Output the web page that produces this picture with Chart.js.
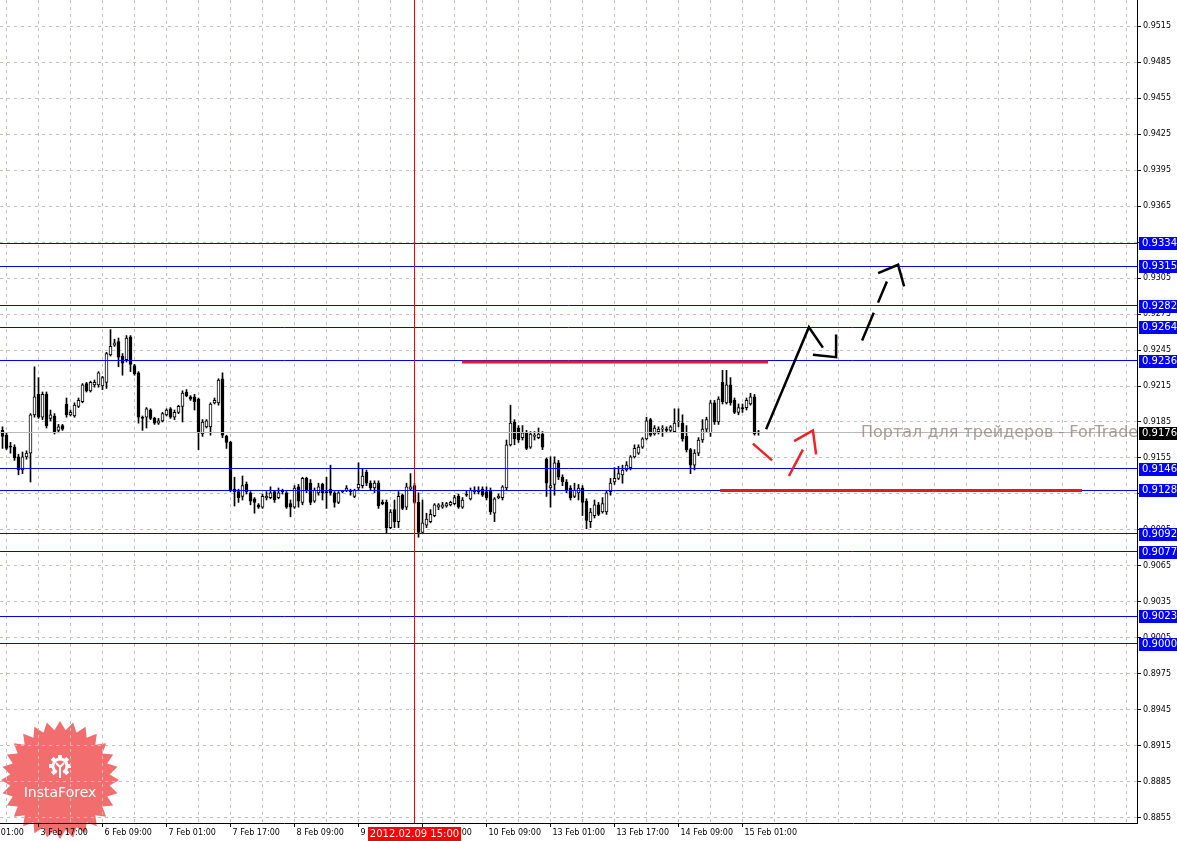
<!DOCTYPE html>
<html>
<head>
<meta charset="utf-8">
<script src="https://cdn.jsdelivr.net/npm/chart.js@4.4.1/dist/chart.umd.min.js"></script>
<style>
  html, body { margin: 0; padding: 0; background: #fff; }
  canvas { display: block; }
</style>
</head>
<body>
<canvas id="chart" width="1177" height="841"></canvas>
<script>
// H1 candles, bar 0 is the first bar on the left, bar 189 = 15 Feb 05:00
const opens = [
  0.9178,0.9174,0.9165,0.9164,0.9156,0.9145,0.9156,0.9159,0.9191,0.9208,
  0.9189,0.9208,0.9188,0.9190,0.9178,0.9182,0.9200,0.9191,0.9190,0.9198,
  0.9202,0.9217,0.9211,0.9216,0.9216,0.9215,0.9218,0.9241,0.9249,0.9252,
  0.9240,0.9237,0.9256,0.9232,0.9226,0.9189,0.9189,0.9195,0.9188,0.9184,
  0.9186,0.9191,0.9196,0.9189,0.9193,0.9198,0.9210,0.9206,0.9206,0.9204,
  0.9175,0.9181,0.9181,0.9201,0.9201,0.9221,0.9173,0.9168,0.9129,0.9127,
  0.9123,0.9133,0.9126,0.9121,0.9116,0.9114,0.9122,0.9122,0.9127,0.9122,
  0.9128,0.9126,0.9117,0.9114,0.9131,0.9118,0.9138,0.9134,0.9119,0.9126,
  0.9133,0.9127,0.9129,0.9126,0.9118,0.9127,0.9128,0.9128,0.9123,0.9130,
  0.9132,0.9143,0.9134,0.9130,0.9134,0.9118,0.9118,0.9097,0.9112,0.9102,
  0.9124,0.9114,0.9129,0.9132,0.9118,0.9093,0.9099,0.9102,0.9107,0.9114,
  0.9114,0.9115,0.9116,0.9117,0.9123,0.9114,0.9125,0.9121,0.9127,0.9128,
  0.9129,0.9127,0.9128,0.9109,0.9122,0.9122,0.9130,0.9166,0.9185,0.9180,
  0.9172,0.9176,0.9164,0.9173,0.9172,0.9175,0.9154,0.9130,0.9133,0.9151,
  0.9139,0.9135,0.9130,0.9123,0.9126,0.9130,0.9119,0.9102,0.9107,0.9116,
  0.9110,0.9110,0.9127,0.9135,0.9138,0.9141,0.9145,0.9147,0.9156,0.9159,
  0.9164,0.9171,0.9187,0.9175,0.9177,0.9179,0.9179,0.9178,0.9177,0.9185,
  0.9184,0.9173,0.9162,0.9149,0.9159,0.9170,0.9179,0.9176,0.9201,0.9185,
  0.9218,0.9201,0.9216,0.9203,0.9193,0.9197,0.9197,0.9200,0.9206,0.9176
];
const highs = [
  0.9181,0.9176,0.9168,0.9166,0.9158,0.9160,0.9161,0.9192,0.9231,0.9222,
  0.9210,0.9210,0.9195,0.9192,0.9183,0.9183,0.9205,0.9195,0.9201,0.9205,
  0.9217,0.9218,0.9219,0.9220,0.9227,0.9223,0.9243,0.9262,0.9254,0.9255,
  0.9242,0.9257,0.9257,0.9233,0.9227,0.9190,0.9197,0.9196,0.9189,0.9188,
  0.9193,0.9196,0.9197,0.9195,0.9199,0.9211,0.9212,0.9207,0.9208,0.9205,
  0.9187,0.9187,0.9201,0.9205,0.9221,0.9226,0.9174,0.9169,0.9139,0.9129,
  0.9140,0.9135,0.9127,0.9122,0.9117,0.9125,0.9127,0.9131,0.9128,0.9130,
  0.9129,0.9127,0.9120,0.9132,0.9133,0.9139,0.9139,0.9137,0.9130,0.9134,
  0.9134,0.9139,0.9149,0.9127,0.9127,0.9128,0.9132,0.9129,0.9129,0.9151,
  0.9146,0.9145,0.9136,0.9136,0.9136,0.9120,0.9120,0.9112,0.9120,0.9127,
  0.9125,0.9134,0.9142,0.9134,0.9126,0.9120,0.9109,0.9112,0.9117,0.9117,
  0.9118,0.9118,0.9119,0.9124,0.9125,0.9122,0.9128,0.9130,0.9131,0.9131,
  0.9131,0.9131,0.9130,0.9122,0.9125,0.9132,0.9170,0.9199,0.9187,0.9182,
  0.9182,0.9178,0.9177,0.9177,0.9180,0.9177,0.9155,0.9156,0.9156,0.9153,
  0.9141,0.9137,0.9132,0.9134,0.9133,0.9132,0.9121,0.9113,0.9120,0.9118,
  0.9122,0.9128,0.9138,0.9147,0.9148,0.9149,0.9152,0.9157,0.9166,0.9166,
  0.9172,0.9189,0.9188,0.9182,0.9181,0.9182,0.9181,0.9182,0.9196,0.9196,
  0.9191,0.9182,0.9163,0.9162,0.9172,0.9187,0.9189,0.9203,0.9203,0.9206,
  0.9228,0.9228,0.9222,0.9205,0.9200,0.9200,0.9205,0.9209,0.9208,0.9178
];
const lows = [
  0.9163,0.9162,0.9159,0.9153,0.9141,0.9142,0.9154,0.9135,0.9189,0.9188,
  0.9187,0.9180,0.9186,0.9175,0.9176,0.9178,0.9189,0.9190,0.9189,0.9197,
  0.9201,0.9210,0.9210,0.9214,0.9214,0.9212,0.9213,0.9240,0.9248,0.9231,
  0.9224,0.9235,0.9227,0.9224,0.9184,0.9178,0.9180,0.9187,0.9183,0.9183,
  0.9185,0.9190,0.9188,0.9187,0.9192,0.9185,0.9206,0.9203,0.9195,0.9162,
  0.9173,0.9180,0.9174,0.9200,0.9199,0.9172,0.9163,0.9127,0.9115,0.9118,
  0.9120,0.9125,0.9116,0.9109,0.9113,0.9113,0.9120,0.9121,0.9118,0.9121,
  0.9125,0.9113,0.9106,0.9113,0.9114,0.9116,0.9126,0.9116,0.9118,0.9124,
  0.9120,0.9113,0.9124,0.9114,0.9117,0.9126,0.9127,0.9124,0.9122,0.9128,
  0.9130,0.9132,0.9128,0.9126,0.9113,0.9116,0.9092,0.9096,0.9097,0.9097,
  0.9112,0.9112,0.9128,0.9117,0.9089,0.9092,0.9097,0.9101,0.9106,0.9112,
  0.9113,0.9114,0.9115,0.9116,0.9113,0.9113,0.9123,0.9120,0.9125,0.9125,
  0.9123,0.9120,0.9108,0.9102,0.9121,0.9120,0.9128,0.9165,0.9166,0.9168,
  0.9170,0.9162,0.9163,0.9170,0.9171,0.9162,0.9123,0.9114,0.9124,0.9137,
  0.9132,0.9126,0.9120,0.9122,0.9120,0.9107,0.9096,0.9097,0.9105,0.9107,
  0.9109,0.9108,0.9124,0.9133,0.9137,0.9134,0.9144,0.9145,0.9155,0.9158,
  0.9163,0.9170,0.9173,0.9174,0.9175,0.9173,0.9176,0.9177,0.9177,0.9181,
  0.9169,0.9160,0.9142,0.9145,0.9157,0.9168,0.9177,0.9173,0.9183,0.9183,
  0.9200,0.9200,0.9199,0.9192,0.9191,0.9193,0.9195,0.9199,0.9174,0.9174
];
const closes = [
  0.9173,0.9163,0.9164,0.9155,0.9145,0.9156,0.9159,0.9191,0.9206,0.9189,
  0.9208,0.9182,0.9191,0.9177,0.9181,0.9179,0.9191,0.9193,0.9199,0.9203,
  0.9216,0.9211,0.9218,0.9218,0.9226,0.9222,0.9242,0.9248,0.9251,0.9239,
  0.9234,0.9255,0.9233,0.9225,0.9189,0.9188,0.9196,0.9188,0.9184,0.9186,
  0.9192,0.9195,0.9189,0.9193,0.9198,0.9209,0.9207,0.9204,0.9202,0.9176,
  0.9185,0.9186,0.9200,0.9203,0.9220,0.9174,0.9168,0.9128,0.9127,0.9122,
  0.9132,0.9127,0.9119,0.9118,0.9114,0.9123,0.9123,0.9126,0.9120,0.9126,
  0.9127,0.9114,0.9114,0.9130,0.9119,0.9138,0.9128,0.9118,0.9128,0.9131,
  0.9126,0.9126,0.9126,0.9118,0.9126,0.9128,0.9130,0.9127,0.9128,0.9133,
  0.9140,0.9134,0.9130,0.9134,0.9115,0.9117,0.9097,0.9110,0.9102,0.9123,
  0.9113,0.9131,0.9131,0.9118,0.9093,0.9101,0.9104,0.9108,0.9116,0.9116,
  0.9116,0.9117,0.9118,0.9122,0.9114,0.9120,0.9124,0.9128,0.9128,0.9127,
  0.9124,0.9122,0.9110,0.9121,0.9123,0.9131,0.9166,0.9184,0.9171,0.9170,
  0.9176,0.9163,0.9175,0.9174,0.9175,0.9164,0.9134,0.9132,0.9151,0.9139,
  0.9135,0.9128,0.9122,0.9128,0.9130,0.9118,0.9103,0.9110,0.9116,0.9108,
  0.9117,0.9126,0.9134,0.9138,0.9142,0.9145,0.9149,0.9156,0.9163,0.9164,
  0.9171,0.9186,0.9174,0.9180,0.9179,0.9180,0.9178,0.9181,0.9184,0.9186,
  0.9171,0.9162,0.9149,0.9159,0.9170,0.9179,0.9187,0.9201,0.9185,0.9204,
  0.9202,0.9216,0.9201,0.9193,0.9197,0.9196,0.9203,0.9206,0.9175,0.9176
];

// price axis labels
const yTicks = [0.8855, 0.8885, 0.8915, 0.8945, 0.8975, 0.9005, 0.9035, 0.9065,
  0.9095, 0.9125, 0.9155, 0.9185, 0.9215, 0.9245, 0.9275, 0.9305, 0.9335,
  0.9365, 0.9395, 0.9425, 0.9455, 0.9485, 0.9515];

// time axis labels (bar index -> text)
const timeTickBars = [-7, 9, 25, 41, 57, 73, 89, 105, 121, 137, 153, 169, 185];
const timeTickLabels = ['3 Feb 01:00', '3 Feb 17:00', '6 Feb 09:00', '7 Feb 01:00',
  '7 Feb 17:00', '8 Feb 09:00', '9 Feb 01:00', '9 Feb 17:00', '10 Feb 09:00',
  '13 Feb 01:00', '13 Feb 17:00', '14 Feb 09:00', '15 Feb 01:00'];

// horizontal levels and markers
const levels = [0.9334, 0.9315, 0.9282, 0.9264, 0.9236, 0.9146, 0.9128, 0.9092, 0.9077, 0.9023, 0.9000];
const lastPrice = 0.9176;
const markerBar = 103;
const markerLabel = '2012.02.09 15:00';

// hand drawn forecast objects: [bar, price]
const resistanceLine = [[114.9, 0.9235], [191.4, 0.9235]];
const supportLine = [[179.4, 0.9128], [269.9, 0.9128]];
const upPath = [[190.9, 0.9179], [201.6, 0.9264], [205.1, 0.9247]];
const upHead = [[202.6, 0.9241], [208.4, 0.9239], [208.4, 0.9258]];
const upPath2 = [[214.9, 0.9253], [221.1, 0.9302]];
const upHead2 = [[218.9, 0.9309], [223.9, 0.9316], [225.4, 0.9298]];
const downPath = [[187.6, 0.9167], [192.4, 0.9153]];
const downPath2 = [[196.6, 0.9140], [200.1, 0.9162]];
const downHead = [[197.9, 0.9169], [202.6, 0.9178], [203.4, 0.9158]];

const FONT = "'DejaVu Sans', sans-serif";
const GRID = '#bcc4bc';

function lineSet(pts, color, width, dash) {
  return {
    type: 'line',
    data: pts.map(p => ({ x: p[0], y: p[1] })),
    borderColor: color,
    borderWidth: width,
    borderDash: dash || [],
    pointRadius: 0,
    fill: false,
    tension: 0,
    order: 0
  };
}

function drawLogo(ctx) {
  const cx = 60, cy = 780, spikes = 28;
  ctx.save();
  ctx.beginPath();
  for (let k = 0; k < spikes * 2; k++) {
    const r = k % 2 ? 50 : 59;
    const a = -Math.PI / 2 + k * Math.PI / spikes;
    const px = cx + r * Math.cos(a), py = cy + r * Math.sin(a);
    if (k === 0) ctx.moveTo(px, py); else ctx.lineTo(px, py);
  }
  ctx.closePath();
  ctx.fillStyle = 'rgba(240, 85, 85, 0.85)';
  ctx.fill();

  // gear icon
  const gx = 60, gy = 766;
  ctx.strokeStyle = '#fff';
  ctx.fillStyle = '#fff';
  ctx.lineWidth = 3;
  ctx.beginPath();
  ctx.arc(gx, gy, 7, Math.PI * 0.65, Math.PI * 0.35);
  ctx.stroke();
  for (let k = 0; k < 8; k++) {
    const a = -Math.PI / 2 + k * Math.PI / 4;
    if (Math.abs(a - Math.PI / 2) < 0.1) continue;
    ctx.save();
    ctx.translate(gx + 9.5 * Math.cos(a), gy + 9.5 * Math.sin(a));
    ctx.rotate(a);
    ctx.fillRect(-1.5, -2, 3, 4);
    ctx.restore();
  }
  ctx.lineWidth = 2;
  ctx.beginPath();
  ctx.moveTo(gx - 4, gy - 3);
  ctx.lineTo(gx, gy + 1);
  ctx.lineTo(gx + 4, gy - 3);
  ctx.moveTo(gx, gy + 1);
  ctx.lineTo(gx, gy + 12);
  ctx.stroke();

  ctx.font = '14px ' + FONT;
  ctx.textAlign = 'center';
  ctx.textBaseline = 'alphabetic';
  ctx.fillText('InstaForex', cx, 797);
  ctx.restore();
}

function tag(ctx, py, text, bg) {
  ctx.fillStyle = bg;
  ctx.fillRect(1139, Math.round(py) - 6, 38, 13);
  ctx.fillStyle = '#fff';
  ctx.font = '10px ' + FONT;
  ctx.textAlign = 'left';
  ctx.textBaseline = 'middle';
  ctx.fillText(text, 1142, Math.round(py) + 0.5);
}

const overlay = {
  id: 'overlay',
  beforeDraw(chart) {
    drawLogo(chart.ctx);
  },
  afterDatasetDraw(chart, args) {
    if (args.index !== 0) return;
    const { ctx, chartArea: a, scales: { x, y } } = chart;
    ctx.save();
    ctx.lineWidth = 1;
    // bid line
    let py = Math.floor(y.getPixelForValue(lastPrice)) + 0.5;
    ctx.strokeStyle = '#b8b8b8';
    ctx.beginPath(); ctx.moveTo(a.left, py); ctx.lineTo(a.right, py); ctx.stroke();
    ctx.strokeStyle = '#0000ff';
    levels.forEach(v => {
      py = Math.floor(y.getPixelForValue(v)) + 0.5;
      ctx.beginPath(); ctx.moveTo(a.left, py); ctx.lineTo(a.right, py); ctx.stroke();
    });
    const mx = Math.floor(x.getPixelForValue(markerBar)) + 0.5;
    ctx.strokeStyle = '#ff0000';
    ctx.beginPath(); ctx.moveTo(mx, a.top); ctx.lineTo(mx, a.bottom); ctx.stroke();
    ctx.restore();
  },
  afterDraw(chart) {
    const { ctx, chartArea: a, scales: { x, y } } = chart;
    ctx.save();
    // watermark
    ctx.save();
    ctx.beginPath();
    ctx.rect(a.left, a.top, a.right - a.left, a.bottom - a.top);
    ctx.clip();
    ctx.font = '16px ' + FONT;
    ctx.fillStyle = 'rgba(150, 132, 132, 0.8)';
    ctx.textAlign = 'left';
    ctx.textBaseline = 'alphabetic';
    ctx.fillText('Портал для трейдеров - ForTrader.ru', 861, 437);
    ctx.restore();

    levels.forEach(v => tag(ctx, y.getPixelForValue(v), v.toFixed(4), '#0000ff'));
    tag(ctx, y.getPixelForValue(lastPrice), lastPrice.toFixed(4), '#000');

    // time marker tag
    const mx = x.getPixelForValue(markerBar);
    ctx.font = '10px ' + FONT;
    const w = ctx.measureText(markerLabel).width + 4;
    ctx.fillStyle = '#ff0000';
    ctx.fillRect(Math.round(mx - w / 2), 827, Math.round(w), 14);
    ctx.fillStyle = '#fff';
    ctx.textAlign = 'center';
    ctx.textBaseline = 'middle';
    ctx.fillText(markerLabel, mx, 834.5);
    ctx.restore();
  }
};

const bars = opens.map((o, i) => i);

new Chart(document.getElementById('chart'), {
  type: 'bar',
  data: {
    datasets: [
      {
        label: 'body',
        data: bars.map(i => ({ x: i, y: [opens[i], closes[i]] })),
        backgroundColor: bars.map(i => closes[i] >= opens[i] ? '#ffffff' : '#000000'),
        borderColor: '#000',
        borderWidth: 1,
        borderSkipped: false,
        barThickness: 3,
        minBarLength: 1,
        grouped: false,
        order: 1
      },
      {
        label: 'wick',
        data: bars.map(i => ({ x: i, y: [lows[i], highs[i]] })),
        backgroundColor: '#000',
        borderWidth: 0,
        barThickness: 1,
        minBarLength: 1,
        grouped: false,
        order: 2
      },
      lineSet(resistanceLine, '#e41b1b', 3),
      lineSet(supportLine, '#e41b1b', 3),
      lineSet(upPath, '#000', 2.5),
      lineSet(upHead, '#000', 2.5),
      lineSet(upPath2, '#000', 2.5, [30, 11]),
      lineSet(upHead2, '#000', 2.5),
      lineSet(downPath, '#ee2222', 2.5),
      lineSet(downPath2, '#ee2222', 2.5),
      lineSet(downHead, '#ee2222', 2.5)
    ]
  },
  options: {
    responsive: false,
    animation: false,
    events: [],
    layout: { padding: 0 },
    plugins: { legend: { display: false }, tooltip: { enabled: false } },
    scales: {
      x: {
        type: 'linear',
        min: -0.625,
        max: 283.625,
        offset: false,
        grid: {
          offset: false,
          color: GRID,
          tickLength: 4,
          tickBorderDash: [],
          tickColor: c => (c.tick && timeTickBars.includes(c.tick.value)) ? '#000' : 'rgba(0,0,0,0)'
        },
        border: { color: '#000', dash: [3, 4] },
        ticks: {
          font: { family: FONT, size: 8 },
          color: '#000',
          padding: 1,
          align: 'start',
          labelOffset: 2,
          maxRotation: 0,
          autoSkip: false,
          callback: v => {
            const k = timeTickBars.indexOf(v);
            return k >= 0 ? timeTickLabels[k] : '';
          }
        },
        afterBuildTicks: scale => {
          const t = [];
          for (let b = -7; b <= 283; b += 8) t.push({ value: b });
          scale.ticks = t;
        },
        afterFit: scale => {
          scale.height = 18;
          scale.paddingLeft = scale.paddingRight = scale.paddingTop = scale.paddingBottom = 0;
        }
      },
      y: {
        type: 'linear',
        position: 'right',
        min: 0.8850833,
        max: 0.9536667,
        beginAtZero: false,
        grid: { color: GRID, tickColor: '#000', tickLength: 4, tickBorderDash: [] },
        border: { color: '#000', dash: [3, 4] },
        ticks: {
          font: { family: FONT, size: 8 },
          color: '#000',
          padding: 2,
          autoSkip: false,
          callback: v => v.toFixed(4)
        },
        afterBuildTicks: scale => {
          scale.ticks = yTicks.map(v => ({ value: v }));
        },
        afterFit: scale => {
          scale.width = 40;
          scale.paddingLeft = scale.paddingRight = scale.paddingTop = scale.paddingBottom = 0;
        }
      }
    }
  },
  plugins: [overlay]
});
</script>
</body>
</html>
